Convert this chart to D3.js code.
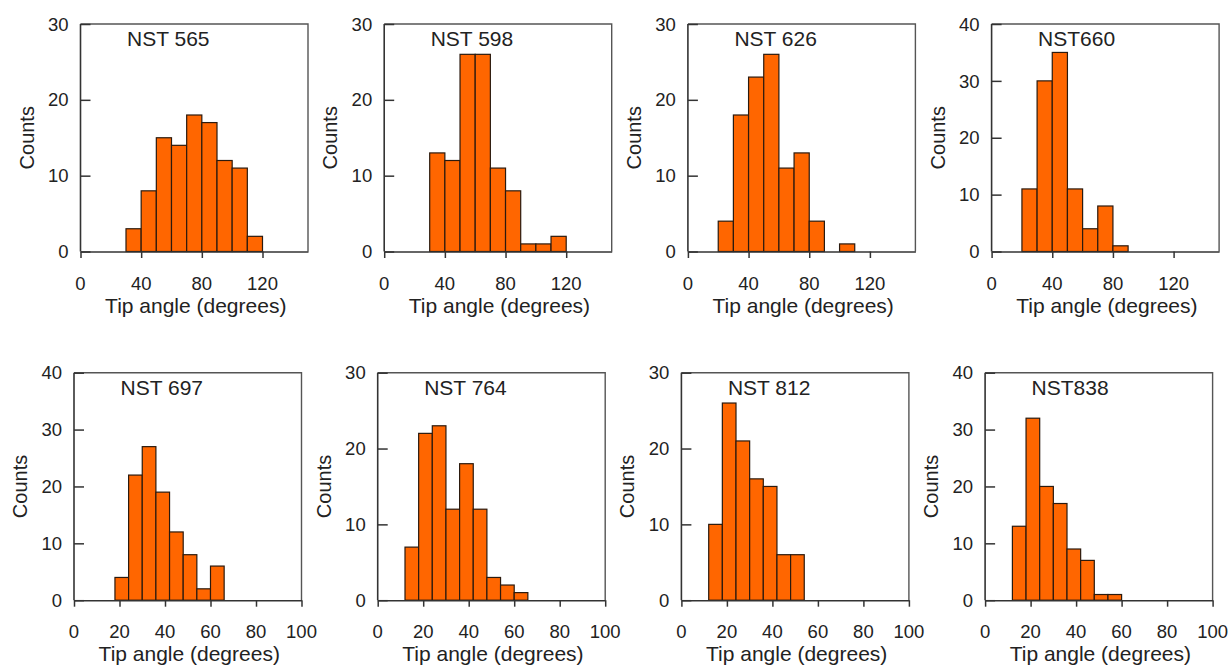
<!DOCTYPE html>
<html>
<head>
<meta charset="utf-8">
<script src="https://cdn.jsdelivr.net/npm/d3@7"></script>
<style>
  html, body { margin: 0; padding: 0; background: #fff; }
  svg { display: block; }
  text { font-family: "Liberation Sans", Arial, Helvetica, sans-serif; fill: #222; }
</style>
</head>
<body>
<svg id="chart" width="1232" height="668"></svg>
<script>
// Specimen names, one per histogram panel
const specimens = ["NST 565", "NST 598", "NST 626", "NST660", "NST 697", "NST 764", "NST 812", "NST838"];

// Left edge of the first bin and the bin width (degrees)
const binStarts = [30, 30, 20, 20, 18, 12, 12, 12];
const binWidths = [10, 10, 10, 10, 6, 6, 6, 6];

// Counts per bin for each specimen
const counts565 = [3, 8, 15, 14, 18, 17, 12, 11, 2];
const counts598 = [13, 12, 26, 26, 11, 8, 1, 1, 2];
const counts626 = [4, 18, 23, 26, 11, 13, 4, 0, 1];
const counts660 = [11, 30, 35, 11, 4, 8, 1];
const counts697 = [4, 22, 27, 19, 12, 8, 2, 6];
const counts764 = [7, 22, 23, 12, 18, 12, 3, 2, 1];
const counts812 = [10, 26, 21, 16, 15, 6, 6];
const counts838 = [13, 32, 20, 17, 9, 7, 1, 1];
const allCounts = [counts565, counts598, counts626, counts660, counts697, counts764, counts812, counts838];

// Axis ranges and tick labels
const yMaxes = [30, 30, 30, 40, 40, 30, 30, 40];
const xMaxes = [150, 150, 150, 150, 100, 100, 100, 100];
const xTicksTop = [0, 40, 80, 120];
const xTicksBottom = [0, 20, 40, 60, 80, 100];
const yTickStep = 10;

const xTitle = "Tip angle (degrees)";
const yTitle = "Counts";

// Layout
const rowLeft = [80.5, 74];
const rowTop = [24, 372.7];
const colStep = 303.7;
const panelW = 227.5;
const panelH = 227.5;

const svg = d3.select("#chart");

specimens.forEach((name, i) => {
  const row = Math.floor(i / 4), col = i % 4;
  const left = rowLeft[row] + col * colStep;
  const top = rowTop[row];
  const g = svg.append("g").attr("transform", `translate(${left},${top})`);

  const x = d3.scaleLinear().domain([0, xMaxes[i]]).range([0, panelW]);
  const y = d3.scaleLinear().domain([0, yMaxes[i]]).range([panelH, 0]);

  const bins = allCounts[i].map((c, k) => ({
    x0: binStarts[i] + k * binWidths[i],
    x1: binStarts[i] + (k + 1) * binWidths[i],
    n: c
  })).filter(d => d.n > 0);

  // Frame (top and right sides)
  g.append("path")
    .attr("d", `M0,0H${panelW}V${panelH}`)
    .attr("fill", "none")
    .attr("stroke", "#555")
    .attr("stroke-width", 1.4);

  // Bars
  g.selectAll("rect.bar").data(bins).join("rect")
    .attr("class", "bar")
    .attr("x", d => x(d.x0))
    .attr("y", d => y(d.n))
    .attr("width", d => x(d.x1) - x(d.x0))
    .attr("height", d => y(0) - y(d.n))
    .attr("fill", "#ff6600")
    .attr("stroke", "#2b1a0e")
    .attr("stroke-width", 1.2);

  // Y axis: ticks point into the plot
  const yTicks = d3.range(0, yMaxes[i] + 1, yTickStep);
  const yAxis = d3.axisRight(y).tickValues(yTicks).tickSize(10).tickFormat("");
  const ya = g.append("g").call(yAxis);
  ya.select(".domain").remove();
  ya.selectAll(".tick line").attr("stroke", "#333").attr("stroke-width", 1.5);
  g.append("line").attr("x1", 0).attr("x2", 0).attr("y1", 0).attr("y2", panelH)
    .attr("stroke", "#333").attr("stroke-width", 1.6);
  g.selectAll("text.ytl").data(yTicks).join("text")
    .attr("class", "ytl")
    .attr("x", -12)
    .attr("y", d => y(d))
    .attr("dy", "0.36em")
    .attr("text-anchor", "end")
    .attr("font-size", 18.5)
    .text(d => d);

  // X axis: ticks point outward
  const xTicks = row === 0 ? xTicksTop : xTicksBottom;
  const xAxis = d3.axisBottom(x).tickValues(xTicks).tickSize(6.5).tickSizeOuter(0).tickFormat("");
  const xa = g.append("g").attr("transform", `translate(0,${panelH})`).call(xAxis);
  xa.select(".domain").attr("stroke", "#333").attr("stroke-width", 1.6);
  xa.selectAll(".tick line").attr("stroke", "#333").attr("stroke-width", 1.5);
  g.selectAll("text.xtl").data(xTicks).join("text")
    .attr("class", "xtl")
    .attr("x", d => x(d))
    .attr("y", panelH + 38)
    .attr("text-anchor", "middle")
    .attr("font-size", 18.5)
    .text(d => d);

  // Axis titles
  g.append("text")
    .attr("x", panelW / 2 + 1.5)
    .attr("y", panelH + 61)
    .attr("text-anchor", "middle")
    .attr("font-size", 21)
    .text(xTitle);
  g.append("text")
    .attr("transform", `translate(-47,${panelH / 2}) rotate(-90)`)
    .attr("text-anchor", "middle")
    .attr("font-size", 20)
    .text(yTitle);

  // Specimen label
  g.append("text")
    .attr("x", 46.5)
    .attr("y", 22)
    .attr("font-size", 21)
    .text(name);
});
</script>
</body>
</html>
